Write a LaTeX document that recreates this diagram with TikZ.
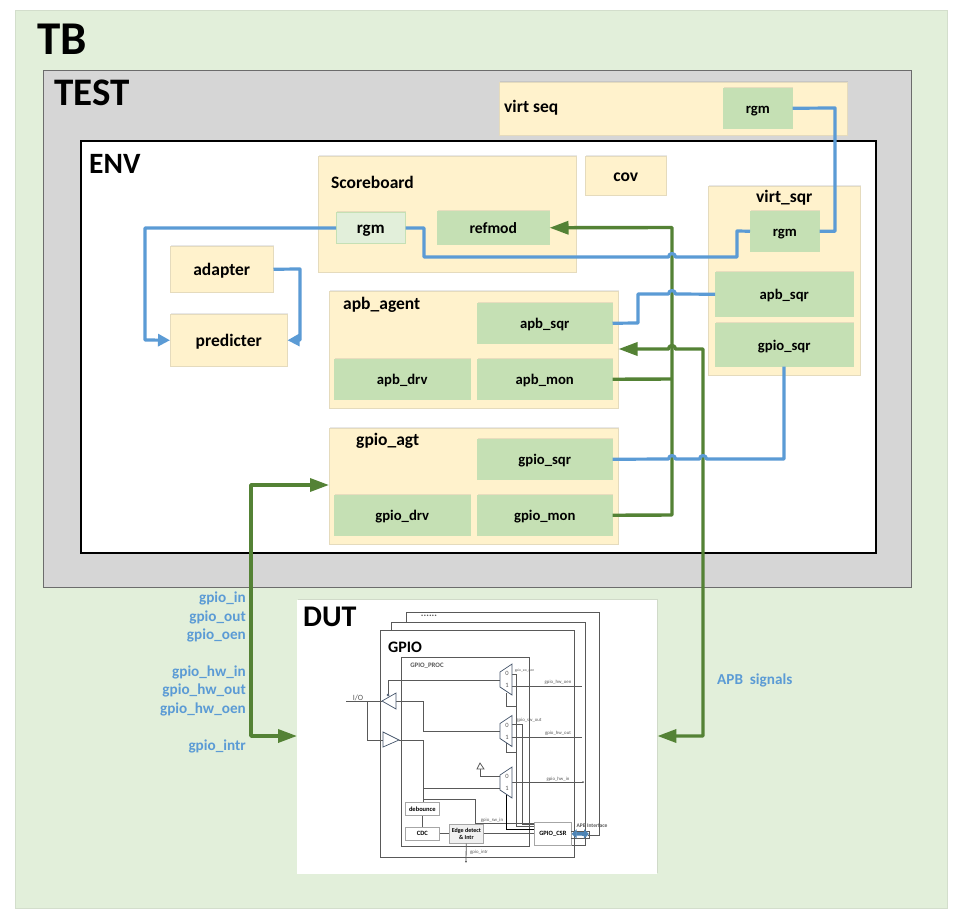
\documentclass[tikz,border=0pt]{standalone}
\usepackage{fontspec}
\setmainfont{Carlito}
\usetikzlibrary{arrows.meta,shadows}
\definecolor{tbgreen}{HTML}{E2EFDA}
\definecolor{testgray}{HTML}{D6D6D6}
\definecolor{compyellow}{HTML}{FFF2CC}
\definecolor{subgreen}{HTML}{C5E0B4}
\definecolor{wireblue}{HTML}{5B9BD5}
\definecolor{wiregreen}{HTML}{548235}
\definecolor{inkgray}{HTML}{595959}
\definecolor{muxline}{HTML}{44546A}
\tikzset{
    comp/.style = {anchor=north west, inner sep=0, fill=compyellow, draw=compyellow!80!gray, line width=0.5,
        drop shadow={shadow xshift=1, shadow yshift=-1, opacity=0.18}, text height=12pt, text depth=0pt,
        font=\fontsize{17.5}{18}\selectfont\bfseries},
    sub/.style = {comp, fill=subgreen, draw=subgreen, text height=11pt, font=\fontsize{14.7}{16}\selectfont\bfseries},
    title/.style = {anchor=west, inner sep=0, font=\fontsize{17.5}{18}\selectfont\bfseries},
    bigtitle/.style = {anchor=west, inner sep=0, font=\fontsize{#1}{#1}\selectfont\bfseries},
    bluewire/.style = {color=wireblue, line width=3.2, line join=round},
    greenwire/.style = {color=wiregreen, line width=3.4, line join=round},
    bluetip/.style = {-{Triangle[length=12,width=12]}},
    greentip/.style = {-{Triangle[length=19,width=13]}},
    siglabel/.style = {anchor=east, inner sep=0, text=wireblue, font=\fontsize{15.2}{16}\selectfont\bfseries},
    wire/.style = {color=inkgray, line width=0.8},
    tinybox/.style = {anchor=north west, inner sep=0, fill=white, draw=gray!70, line width=0.7, align=center, font=\fontsize{6.5}{7.5}\selectfont\bfseries},
    tinytext/.style = {inner sep=0, text=inkgray, font=\fontsize{4.8}{5}\selectfont},
    muxshape/.style = {draw=muxline, line width=0.7, fill=white}
}
\begin{document}
\begin{tikzpicture}[x=1pt, y=-1pt]
    \useasboundingbox (0,0) rectangle (963,920);

    \node[anchor=north west, inner sep=0, minimum width=932, minimum height=898, fill=tbgreen, draw=tbgreen!85!gray, line width=0.5] (tb) at (15,10) {};
    \node[bigtitle=47] (tbname) at (37,39) {TB};
    \node[anchor=north west, inner sep=0, minimum width=868, minimum height=517, fill=testgray, draw=gray!85!black, line width=1] (test) at (43,70) {};
    \node[bigtitle=39] (testname) at (54,93) {TEST};
    \node[comp, minimum width=348, minimum height=53] (virtseq) at (499,82) {};
    \node[title] (virtseqname) at (504,108) {virt seq};
    \node[anchor=north west, inner sep=0, minimum width=795, minimum height=412, fill=white, draw=black, line width=1.6] (env) at (80,140) {};
    \node[bigtitle=29.5] (envname) at (89,164) {ENV};

    % components in env
    \node[sub, minimum width=69, minimum height=40] (seqrgm) at (723,88) {rgm};
    \node[comp, minimum width=258, minimum height=116] (score) at (318,156) {};
    \node[title] (scorename) at (331,182) {Scoreboard};
    \node[sub, fill=tbgreen, draw=subgreen, minimum width=69, minimum height=31, font=\fontsize{17}{18}\selectfont\bfseries] (scorergm) at (336,212) {rgm};
    \node[sub, minimum width=112, minimum height=33, font=\fontsize{15.6}{16}\selectfont\bfseries] (refmod) at (437,211) {refmod};
    \node[comp, minimum width=81, minimum height=39] (cov) at (585,156) {cov};
    \node[comp, minimum width=152, minimum height=189] (vsqr) at (708,186) {};
    \node[title] (vsqrname) at (756,198) {virt\_sqr};
    \node[sub, minimum width=69, minimum height=40] (vrgm) at (750,211) {rgm};
    \node[sub, minimum width=138, minimum height=44] (vapb) at (715,272) {apb\_sqr};
    \node[sub, minimum width=138, minimum height=43] (vgpio) at (715,323) {gpio\_sqr};
    \node[comp, minimum width=103, minimum height=46] (adapter) at (170,246) {adapter};
    \node[comp, minimum width=117, minimum height=52] (predicter) at (170,314) {predicter};

    \node[comp, minimum width=289, minimum height=117] (apbagt) at (329,291) {};
    \node[title] (apbname) at (343,305) {apb\_agent};
    \node[sub, minimum width=135, minimum height=40] (apbsqr) at (477,303) {apb\_sqr};
    \node[sub, minimum width=136, minimum height=40] (apbdrv) at (334,359) {apb\_drv};
    \node[sub, minimum width=135, minimum height=40] (apbmon) at (477,359) {apb\_mon};

    \node[comp, minimum width=289, minimum height=116] (gpioagt) at (329,428) {};
    \node[title] (gpioname) at (356,441) {gpio\_agt};
    \node[sub, minimum width=135, minimum height=40] (gpiosqr) at (477,439) {gpio\_sqr};
    \node[sub, minimum width=136, minimum height=40] (gpiodrv) at (334,495) {gpio\_drv};
    \node[sub, minimum width=135, minimum height=40] (gpiomon) at (477,495) {gpio\_mon};

    % dut
    \node[anchor=north west, inner sep=0, minimum width=360, minimum height=274, fill=white, drop shadow={shadow xshift=1, shadow yshift=-1, opacity=0.18}] (dut) at (297,600) {};
    \node[bigtitle=30] (dutname) at (303,617) {DUT};
    \draw[wire, line width=1] (406,622) -- (406,612) -- (599,612) -- (599,835) -- (588,835);
    \draw[wire, line width=1] (391,630) -- (391,622) -- (585,622) -- (585,845) -- (571,845);
    \node[anchor=north west, inner sep=0, minimum width=194, minimum height=227, draw=inkgray, line width=1] (gpio) at (380,630) {};
    \node[inner sep=0, font=\fontsize{10}{10}\selectfont\bfseries, text=inkgray] (dots) at (429,616) {......};
    \node[anchor=west, inner sep=0, font=\fontsize{16}{18}\selectfont\bfseries] (gpioword) at (388,647) {GPIO};
    \node[anchor=north west, inner sep=0, minimum width=128, minimum height=189, draw=inkgray, line width=0.9] (proc) at (401,657) {};
    \node[inner sep=0, font=\fontsize{6.8}{7}\selectfont\bfseries, text=inkgray] (procname) at (427,666) {GPIO\_PROC};

    % wires in gpio
    \node[inner sep=0, font=\fontsize{8}{9}\selectfont, text=inkgray] (ioname) at (358,698) {I/O};
    \draw[wire] (346,701) -- (382,701);
    \draw[wire] (367,701) -- (367,740) -- (383,740);
    \draw[wire] (388,695) -- (388,680) -- (500,680);
    \draw[wire] (396,701) -- (423,701) -- (423,731) -- (500,731);
    \draw[wire] (399,740) -- (423,740) -- (423,802);
    \draw[wire] (423,788) -- (500,788);
    \draw[wire] (423,799) -- (475,799) -- (475,823) -- (534,823);
    \draw[wire] (480,769) -- (480,776) -- (500,776);
    \draw[wire] (512,674) -- (516,674) -- (516,826) -- (534,826);
    \draw[wire] (512,724) -- (522,724) -- (522,824) -- (534,824);
    \draw[wire] (506,693) -- (506,706) -- (516,706);
    \draw[wire] (506,743) -- (506,752) -- (516,752);
    \draw[wire, black] (506,793) -- (506,829) -- (534,829);
    \draw[wire] (512,686) -- (582,686);
    \draw[wire] (512,737) -- (582,737);
    \draw[wire] (512,782) -- (583,782);
    \fill[inkgray] (583,782) circle (1);
    \draw[muxshape] (382,701) -- (396,693) -- (396,709) -- cycle;
    \draw[muxshape] (399,740) -- (383,732) -- (383,747) -- cycle;
    \draw[muxshape] (388,695) circle (1);
    \draw[draw=inkgray, fill=white, line width=0.7] (480,763) -- (477,769) -- (484,769) -- cycle;
    \foreach \muxy/\muxname in {679.5/muxoen, 731/muxout, 782.5/muxin}{
        \draw[muxshape] (500,\muxy-7.5) -- (512,\muxy-15.5) -- (512,\muxy+15.5) -- (500,\muxy+7.5) -- cycle;
        \node[inner sep=0, font=\fontsize{6.5}{7}\selectfont, text=inkgray] (\muxname0) at (507,\muxy-6) {0};
        \node[inner sep=0, font=\fontsize{6.5}{7}\selectfont, text=inkgray] (\muxname1) at (507,\muxy+6) {1};
    }
    \node[tinytext, font=\fontsize{3.6}{4}\selectfont] (swoen) at (524.5,671) {gpio\_sw\_oen};
    \node[tinytext] (hwoen) at (558,682) {gpio\_hw\_oen};
    \node[tinytext] (swout) at (529,720) {gpio\_sw\_out};
    \node[tinytext] (hwout) at (558,733) {gpio\_hw\_out};
    \node[tinytext] (hwin) at (558,779) {gpio\_hw\_in};
    \node[tinytext] (swin) at (492,820) {gpio\_sw\_in};
    \node[tinytext] (intrname) at (479,852) {gpio\_intr};
    \node[tinybox, minimum width=34, minimum height=13] (debounce) at (405,802) {debounce};
    \node[tinybox, minimum width=34, minimum height=13] (cdc) at (405,827) {CDC};
    \node[tinybox, minimum width=34, minimum height=19, fill=gray!12, font=\fontsize{6}{7.5}\selectfont\bfseries] (edge) at (449,824) {Edge detect\\\& Intr};
    \node[tinybox, minimum width=37, minimum height=23] (csr) at (534,822) {GPIO\_CSR};
    \coordinate (intrend) at (466,863);
    \coordinate (apbend) at (589,834);
    \node[tinytext, font=\fontsize{5.5}{6}\selectfont\bfseries] (apbif) at (592,826) {APB Interface};
    \draw[wire] (debounce) -- (cdc);
    \draw[wire] (cdc) -- (edge);
    \draw[wire] (edge) -- (csr);
    \draw[wire, -{Latex[length=2,width=2]}] (edge) -- (intrend);
    \draw[wire] (571,831) -- (589,831) -- (589,838) -- (571,838);
    \draw[wireblue!85!black, line width=3.6, {Triangle[length=5,width=9]}-{Triangle[length=5,width=9]}] (csr.east) -- (apbend);

    % connectors with the crossing points
    \coordinate (topright) at (835,108);
    \coordinate (crossa) at (672,257);
    \coordinate (crossb) at (672,294);
    \coordinate (crossc) at (672,459);
    \coordinate (crossd) at (703,459);
    \coordinate (crosse) at (672,349);
    \draw[greenwire, greentip] (gpiomon.east) -- (672,515) -- (672,227.5) -- (refmod.east);
    \draw[greenwire] (apbmon.east) -- (672,379);
    \draw[greenwire, {Triangle[length=19,width=13]}-{Triangle[length=19,width=13]}] (apbagt.east |- crosse) -- ([xshift=-3.5]crosse) arc[start angle=180, end angle=360, radius=3.5] -- (703,349) -- (703,736) -- (dut.east |- 0,736);
    \draw[greenwire, {Triangle[length=19,width=13]}-{Triangle[length=19,width=13]}] (gpioagt.west |- 0,485) -- (251,485) -- (251,736) -- (dut.west |- 0,736);

    \draw[bluewire] (seqrgm.east) -- (topright) |- (vrgm.east);
    \draw[bluewire] (vrgm.west) -- (737,231) -- (737,257) -- ([xshift=3.5]crossa) arc[start angle=0, end angle=-180, radius=3.5] -- (424,257) -- (424,228) -- (scorergm.east |- 0,228);
    \draw[bluewire, bluetip] (scorergm.west |- 0,228) -- (145,228) -- (145,340) -- (predicter.west);
    \draw[bluewire, bluetip] (adapter.east) -- (300,269) -- (300,340) -- (predicter.east);
    \draw[bluewire] (apbsqr.east) -- (638,323) -- (638,294) -- ([xshift=-3.5]crossb) arc[start angle=-180, end angle=0, radius=3.5] -- (vapb.west);
    \draw[bluewire] (gpiosqr.east) -- ([xshift=-3.5]crossc) arc[start angle=-180, end angle=0, radius=3.5] -- ([xshift=-3.5]crossd) arc[start angle=-180, end angle=0, radius=3.5] -- (784,459) -- (vgpio.south -| 784,0);

    % signal names
    \node[siglabel] (lin) at (246,598) {gpio\_in};
    \node[siglabel] (lout) at (246,617) {gpio\_out};
    \node[siglabel] (loen) at (246,635) {gpio\_oen};
    \node[siglabel] (lhwin) at (246,672) {gpio\_hw\_in};
    \node[siglabel] (lhwout) at (246,690) {gpio\_hw\_out};
    \node[siglabel] (lhwoen) at (246,709) {gpio\_hw\_oen};
    \node[siglabel] (lintr) at (246,746) {gpio\_intr};
    \node[siglabel, anchor=west] (lapb) at (717,680) {APB\ \ signals};
\end{tikzpicture}
\end{document}
